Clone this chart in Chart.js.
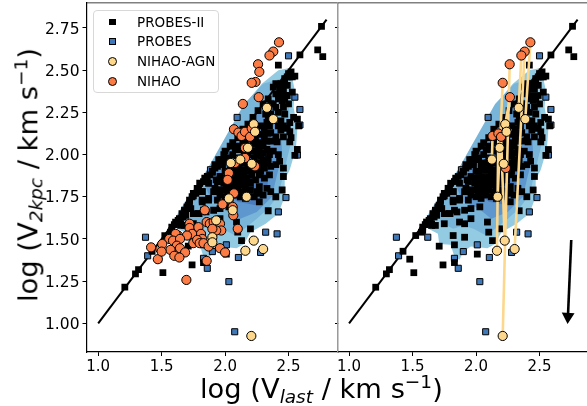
<!DOCTYPE html>
<html><head><meta charset="utf-8">
<script src="https://cdn.jsdelivr.net/npm/chart.js@4/dist/chart.umd.min.js"></script>
<style>
html,body{margin:0;padding:0;background:#fff;width:587px;height:406px;overflow:hidden;font-family:"DejaVu Sans",sans-serif}
canvas{position:absolute;top:0}
.t{position:absolute;font-size:27.3px;white-space:nowrap;color:#000;line-height:1}
.t sub{font-size:18.5px;vertical-align:-5px;line-height:0}
.t sup{font-size:18.5px;vertical-align:10px;line-height:0}
#legend{position:absolute;left:93px;top:10px;width:126px;height:83px;border:1px solid #d8d8d8;border-radius:4px;background:rgba(255,255,255,.85);box-sizing:border-box;font-size:13.5px;z-index:3}
#legend div{position:absolute;left:43px;white-space:nowrap;line-height:14px}
#legend i{position:absolute;box-sizing:border-box;border:1px solid #000}
</style></head><body>
<canvas id="a" width="340" height="406" style="left:0;width:340px;height:406px"></canvas>
<canvas id="b" width="251" height="406" style="left:336px;width:251px;height:406px"></canvas>
<div class="t" style="left:200px;top:375px">log (V<sub><i>last</i></sub> / km s<sup>−1</sup>)</div>
<div class="t" style="left:28px;top:175px;transform:translate(-50%,-50%) rotate(-90deg)">log (V<sub><i>2kpc</i></sub> / km s<sup>−1</sup>)</div>
<div id="legend"></div>
<script>
const xTicks=[1.0,1.5,2.0,2.5];
const yTicks=[1.00,1.25,1.50,1.75,2.00,2.25,2.50,2.75];
const seriesNames=['PROBES-II','PROBES','NIHAO-AGN','NIHAO'];
const identity=[[1,1],[2.8,2.8]];
const arrowLine=[[2.75,1.494],[2.724,1.04]];
const probes2=[[2.76,2.76],[2.59,2.59],[2.73,2.62],[2.77,2.58],[2.42,2.53],[2.50,2.48],[2.52,2.49],[2.49,2.46],[2.53,2.46],[2.55,2.465],[2.51,2.46],[2.47,2.45],
[2.49,2.41],[2.44,2.42],[2.46,2.39],[2.53,2.37],[2.49,2.35],[2.42,2.33],[2.38,2.30],[2.46,2.28],[2.42,2.25],[2.36,2.24],[2.54,2.22],[2.57,2.21],[2.51,2.19],[2.49,2.155],[2.44,2.145],[2.58,2.17],[2.51,2.135],[2.40,2.105],[2.46,2.105],[2.51,2.075],[2.41,2.075],[2.57,2.03],[2.55,1.995],[2.46,1.92],[2.46,1.87],
[2.34,2.125],[2.30,2.05],[2.28,1.99],[2.34,1.97],[2.38,2.40],[2.40,2.36],[2.44,2.35],[2.35,2.17],[2.33,2.19],[2.31,2.15],[2.29,2.12],[2.31,2.10],[2.36,2.08],[2.33,2.03],[2.38,2.02],[2.26,2.06],[2.24,2.02],[2.36,1.93],[2.31,1.92],[2.28,1.90],[2.26,1.95],[2.31,1.86],[2.35,1.88],
[2.04,2.05],[1.99,2.00],[1.95,1.97],[1.92,1.94],[1.98,1.94],[2.02,1.97],[1.86,1.87],[1.90,1.90],[2.07,1.91],[2.05,1.87],[2.10,1.98],[2.12,2.03],[2.16,2.08],[2.20,2.10],[2.22,2.06],[2.18,2.00],[2.15,1.95],[2.12,1.90],[2.18,1.92],[2.22,1.94],[2.21,1.88],[2.17,1.86],[2.13,1.85],[2.09,1.84],[2.00,1.90],[1.96,1.87],[1.93,1.85],[1.99,1.84],[2.03,1.82],[2.07,1.80],[2.12,1.82],[2.16,1.80],[2.20,1.83],[2.24,1.85],[2.27,1.81],[2.25,1.78],[2.20,1.79],
[2.27,1.77],[2.33,1.80],[2.34,1.667],[2.45,1.79],[2.15,1.76],[2.19,1.84],[2.30,1.76],[2.36,1.78],[2.40,1.75],
[1.21,1.214],[1.294,1.293],[1.318,1.318],[1.425,1.427],[1.478,1.38],[1.51,1.30],[1.525,1.52],[1.57,1.54],[1.58,1.57],[1.61,1.60],[1.64,1.62],[1.66,1.65],[1.63,1.61],[1.60,1.585],[1.68,1.66],[1.71,1.70],[1.75,1.755],[1.72,1.71],[1.73,1.68],[1.70,1.68],[1.75,1.65],[1.79,1.65],[1.83,1.67],[1.68,1.58],[1.75,1.59],[1.71,1.457],[1.83,1.465],[1.82,1.52],[1.91,1.51],[1.87,1.60],[1.91,1.59],[1.96,1.62],[1.91,1.67],[1.96,1.68],[2.03,1.69],[1.82,1.72],[1.87,1.73],[1.82,1.78],[1.91,1.78],[1.95,1.79],[1.94,1.73],[2.01,1.82],[2.03,1.79],[2.02,1.76],[2.06,1.84],[2.09,1.60],[2.10,1.54],[2.13,1.49],[2.20,1.56],[2.01,1.41],[1.83,1.36],[1.74,1.346],
[1.78,1.80],[1.80,1.83],[1.83,1.84],[1.87,1.83],[1.75,1.77],[1.92,1.80],[1.96,1.76],[1.67,1.63],[1.69,1.64],[1.65,1.59],[1.85,1.66],[2.27,1.72],[2.23,1.75],[2.38,2.22],[2.34,2.28],[2.47,2.24],[2.52,2.10],[2.25,2.13],[2.28,2.17],[2.36,2.13],[2.42,2.00],[2.40,1.94],[2.43,1.96],[2.27,1.88],
[1.976,1.955],[1.94,1.93],[2.02,1.98],[1.90,1.895],[2.05,1.91],[2.02,1.90],[2.09,1.91],[1.94,1.84],[1.82,1.78],[1.93,1.79],[1.82,1.73],[1.87,1.74],[2.00,1.75],[2.04,1.74],[2.08,1.76],[2.12,1.75],[2.16,1.74],[2.00,1.79],[2.05,1.78],[2.10,1.79],[2.14,1.78],[2.18,1.77],[1.99,1.83],[2.04,1.84],[2.08,1.82],[2.14,1.83],
[1.74,1.75],[1.72,1.73],[1.70,1.69],[1.68,1.67],[1.795,1.65],[1.65,1.58],[1.58,1.55],[1.77,1.77],[1.79,1.79],[1.84,1.86],[1.88,1.88],[1.92,1.92],[1.97,1.97],[2.00,2.02],[2.06,2.07],[2.10,2.10],[2.14,2.15],[2.18,2.18],[2.22,2.22],[2.26,2.26],[2.30,2.30],[2.34,2.33],
[2.10,2.05],[2.15,2.02],[2.19,2.05],[2.06,2.00],[2.09,1.95],[2.14,1.91],[2.24,2.10],[2.23,2.16],[2.19,2.13],[2.27,2.03],[2.30,1.97],[2.04,1.94],[2.33,2.08],[2.36,2.30],[2.42,2.17],[2.46,2.17],[2.40,2.28],[2.45,2.32],
[2.06,1.95],[2.08,2.03],[2.14,2.07],[2.17,1.97],[2.20,2.02],[2.23,1.98],[2.10,1.87],[2.15,1.88],[2.19,1.90],[2.23,1.91],[2.11,1.93],[2.01,1.86],[2.07,1.86],[2.25,2.00],[2.28,2.07],[2.30,2.01],[2.32,1.95],[2.29,1.94],[2.35,2.00],[2.34,2.21],[2.32,2.24],[2.40,2.42],[2.43,2.39],[2.47,2.33],[2.50,2.30],[2.44,2.20]];
const probes1=[[1.373,1.51],[1.39,1.40],[1.62,1.51],[1.86,1.326],[2.03,1.247],[2.076,0.95],[2.105,1.39],[2.28,1.42],[2.32,1.54],[2.41,1.53],[2.48,1.745],[2.42,1.66],[1.83,1.385],[1.90,1.425],[2.01,1.465],[2.50,2.585],[2.59,2.267],[2.55,2.34],[2.59,2.175],[2.095,2.22],[2.57,1.997],[1.885,1.91]];
const agnLeft=[[2.33,2.277],[2.38,2.21],[2.226,2.18],[2.236,2.135],[2.18,2.04],[2.12,1.97],[2.045,1.95],[2.21,1.945],[2.03,1.74],[2.17,1.75],[2.06,1.67],[1.93,1.61],[1.90,1.51],[1.90,1.48],[2.226,1.49],[2.16,1.43],[2.30,1.44],[2.207,0.925]];
const nihaoLeft=[[2.425,2.665],[2.38,2.61],[2.35,2.587],[2.26,2.535],[2.27,2.49],[2.24,2.43],[2.21,2.425],[2.265,2.34],[2.14,2.30],[2.07,2.15],[2.105,2.13],[2.13,2.11],[2.157,2.135],[2.197,2.105],[2.21,2.155],[2.08,1.95],[2.157,1.98],[2.236,1.93],[2.157,2.04],[2.03,1.89],[2.02,1.85],[2.07,1.77],[1.98,1.705],[2.06,1.69],[2.065,1.64],[1.84,1.67],[2.10,1.56],[1.855,1.60],[1.88,1.59],[1.91,1.60],[1.96,1.59],[1.97,1.55],[1.93,1.55],[1.90,1.56],[1.72,1.59],[1.72,1.565],[1.79,1.57],[1.81,1.53],[1.82,1.50],[1.74,1.53],[1.70,1.52],[1.63,1.52],[1.61,1.53],[1.56,1.50],[1.59,1.49],[1.645,1.50],[1.62,1.46],[1.645,1.445],[1.685,1.42],[1.57,1.435],[1.60,1.40],[1.64,1.39],[1.47,1.38],[1.49,1.44],[1.505,1.47],[1.50,1.425],[1.417,1.45],[1.75,1.475],[1.78,1.494],[1.80,1.475],[1.83,1.475],[1.87,1.455],[1.96,1.445],[2.0,1.42],[1.855,1.37],[1.695,1.257]];
const nihaoRight=[[2.428,2.665],[2.383,2.61],[2.357,2.587],[2.265,2.535],[2.21,2.425],[2.267,2.34],[2.13,2.11],[2.176,2.125],[2.197,2.105],[2.234,1.92]];
const agnRight=[[2.388,2.21],[2.304,1.44],[2.336,2.277],[2.21,0.925],[2.17,1.75],[2.23,2.18],[2.125,1.97],[2.165,1.43],[2.226,1.49],[2.218,1.945],[2.24,2.135],[2.186,2.04]];
const pairEnds=[[0,0],[1,1],[2,2],[3,3],[4,4],[5,5],[6,6],[7,7],[8,8],[9,9],[5,10],[8,11]];
const density1=[[2.49,2.51],[2.53,2.45],[2.55,2.38],[2.54,2.28],[2.57,2.155],[2.56,2.05],[2.54,1.987],[2.51,1.91],[2.47,1.85],[2.47,1.75],[2.42,1.65],[2.32,1.59],[2.20,1.54],[2.15,1.47],[2.09,1.445],[1.96,1.455],[1.90,1.425],[1.87,1.376],[1.83,1.395],[1.80,1.465],[1.71,1.47],[1.70,1.53],[1.60,1.57],[1.61,1.63],[1.70,1.74],[1.83,1.88],[1.93,1.985],[2.0,2.085],[2.085,2.185],[2.17,2.31],[2.29,2.42],[2.42,2.50]];
const density2=[[2.44,2.45],[2.50,2.35],[2.51,2.2],[2.53,2.1],[2.49,1.98],[2.45,1.85],[2.42,1.76],[2.34,1.68],[2.25,1.62],[2.17,1.57],[2.08,1.52],[1.98,1.56],[1.9,1.58],[1.82,1.56],[1.72,1.60],[1.72,1.72],[1.85,1.9],[2.0,2.10],[2.15,2.30],[2.3,2.42]];
const density3=[[2.38,2.33],[2.44,2.15],[2.45,2.0],[2.40,1.85],[2.37,1.75],[2.25,1.66],[2.12,1.62],[2.02,1.68],[1.9,1.72],[1.85,1.8],[1.95,1.96],[2.1,2.12],[2.25,2.26]];
const density4=[[2.30,2.12],[2.36,1.95],[2.33,1.80],[2.24,1.70],[2.10,1.72],[2.00,1.78],[2.02,1.88],[2.12,2.00],[2.22,2.10]];
const C={black:'#000000',blue:'#3f78b8',agn:'#fdd88c',nihao:'#fb7d45',line:'#fdd88c',d:['#93cbe2','#78b5d9','#5e97cd','#4b7dbc']};
const pts=a=>a.map(p=>({x:p[0],y:p[1]}));
const noPad=b=>{b.paddingTop=b.paddingBottom=b.paddingLeft=b.paddingRight=0};
function scatter(label,data,color,order,r,style,bw){return{label,data:pts(data),order,pointStyle:style,pointRadius:r,pointHoverRadius:r,pointBackgroundColor:color,pointBorderColor:'#000',pointBorderWidth:bw,showLine:false};}
function poly(data,color,order){const d=pts(data);d.push(d[0]);return{label:'density',data:d,order,showLine:true,fill:'shape',backgroundColor:color,borderColor:color,borderWidth:0,pointRadius:0,tension:0};}
function lineSet(data,order,w){return{label:'line',data:pts(data),order,showLine:true,borderColor:'#000',borderWidth:w,pointRadius:0,fill:false};}
const densities=()=>[poly(density1,C.d[0],30),poly(density2,C.d[1],29),poly(density3,C.d[2],28),poly(density4,C.d[3],27)];
function scales(xr,showY,yw,extra){const fm=(n)=>v=>Number(v).toFixed(n);
 const s={
 x:{type:'linear',position:'bottom',min:xr[0],max:xr[1],afterBuildTicks:a=>{a.ticks=xTicks.map(v=>({value:v}))},afterFit:b=>{b.height=54;noPad(b)},
   ticks:{color:'#000',font:{family:'DejaVu Sans',size:15},maxRotation:0,autoSkip:false,padding:2,callback:fm(1)},
   grid:{drawOnChartArea:false,tickLength:4,color:'#000',tickWidth:1},border:{color:'#000',width:1.2}},
 xTop:{type:'linear',position:'top',min:xr[0],max:xr[1],afterBuildTicks:a=>{a.ticks=[]},afterFit:b=>{b.height=0;noPad(b)},ticks:{display:false},grid:{display:true,drawOnChartArea:false,drawTicks:false},border:{color:'#808080',width:1.5}},
 y:{type:'linear',position:'left',min:0.83,max:2.898,afterBuildTicks:a=>{a.ticks=showY?yTicks.map(v=>({value:v})):[]},afterFit:b=>{b.width=yw;noPad(b)},
   ticks:{display:showY,color:'#000',font:{family:'DejaVu Sans',size:15.5,lineHeight:0.2},autoSkip:false,padding:3,callback:v=>['',Number(v).toFixed(2)]},
   grid:{drawOnChartArea:false,tickLength:4,color:'#000'},border:{color:showY?'#000':'#9a9a9a',width:1.2}}};
 return Object.assign(s,extra||{});}
const baseOpts=(sc,pad)=>({responsive:false,animation:false,events:[],layout:{padding:pad,autoPadding:false},scales:sc,plugins:{legend:{display:false},tooltip:{enabled:false}}});
new Chart(document.getElementById('a'),{type:'scatter',data:{datasets:[
 scatter(seriesNames[0],probes2,C.black,5,4.8,'rect',0),
 scatter(seriesNames[1],probes1,C.blue,6,4.3,'rect',1),
 scatter(seriesNames[2],agnLeft,C.agn,1,4.6,'circle',1),
 scatter(seriesNames[3],nihaoLeft,C.nihao,2,4.6,'circle',1),
 lineSet(identity,7,2),
 ...densities()]},
 options:baseOpts(scales([0.908,2.89],true,86.5,{
  yR:{type:'linear',position:'right',min:0.83,max:2.898,afterBuildTicks:a=>{a.ticks=yTicks.map(v=>({value:v}))},afterFit:b=>{b.width=0;noPad(b)},ticks:{display:false},grid:{drawOnChartArea:false,tickLength:-3,color:'#000'},border:{color:'#333',width:1.2}}
 }),{top:3,right:2,left:0,bottom:0})});
const segs=[];pairEnds.forEach(p=>{segs.push({x:nihaoRight[p[0]][0],y:nihaoRight[p[0]][1]},{x:agnRight[p[1]][0],y:agnRight[p[1]][1]},{x:null,y:null})});
new Chart(document.getElementById('b'),{type:'scatter',data:{datasets:[
 scatter(seriesNames[2],agnRight,C.agn,1,4.6,'circle',1),
 scatter(seriesNames[3],nihaoRight,C.nihao,1.5,4.6,'circle',1),
 {label:'pairs',data:segs,order:2,showLine:true,spanGaps:false,borderColor:C.line,borderWidth:2.6,pointRadius:0,fill:false},
 scatter(seriesNames[0],probes2,C.black,5,4.8,'rect',0),
 scatter(seriesNames[1],probes1,C.blue,6,4.3,'rect',1),
 lineSet(identity,7,2),
 {label:'arrow',data:pts(arrowLine),order:3,showLine:true,borderColor:'#000',borderWidth:2.6,pointStyle:'triangle',pointRadius:[0,4.8],pointRotation:[0,183],pointBackgroundColor:'#000',pointBorderColor:'#000',fill:false},
 ...densities()]},
 options:baseOpts(scales([0.913,2.874],false,0),{top:3,left:2,right:0,bottom:0})});
const L=document.getElementById('legend');
const marks=[['#000',6.5,0],[C.blue,7,0],[C.agn,9,1],[C.nihao,9,1]];
seriesNames.forEach((n,i)=>{const top=[11,30,50,70][i];const m=marks[i];
 const e=document.createElement('i');e.style.cssText=`left:${18.5-m[1]/2}px;top:${top-m[1]/2}px;width:${m[1]}px;height:${m[1]}px;background:${m[0]};border-radius:${m[2]?'50%':'0'}`;L.appendChild(e);
 const d=document.createElement('div');d.textContent=n;d.style.top=(top-7)+'px';L.appendChild(d);});
</script></body></html>
